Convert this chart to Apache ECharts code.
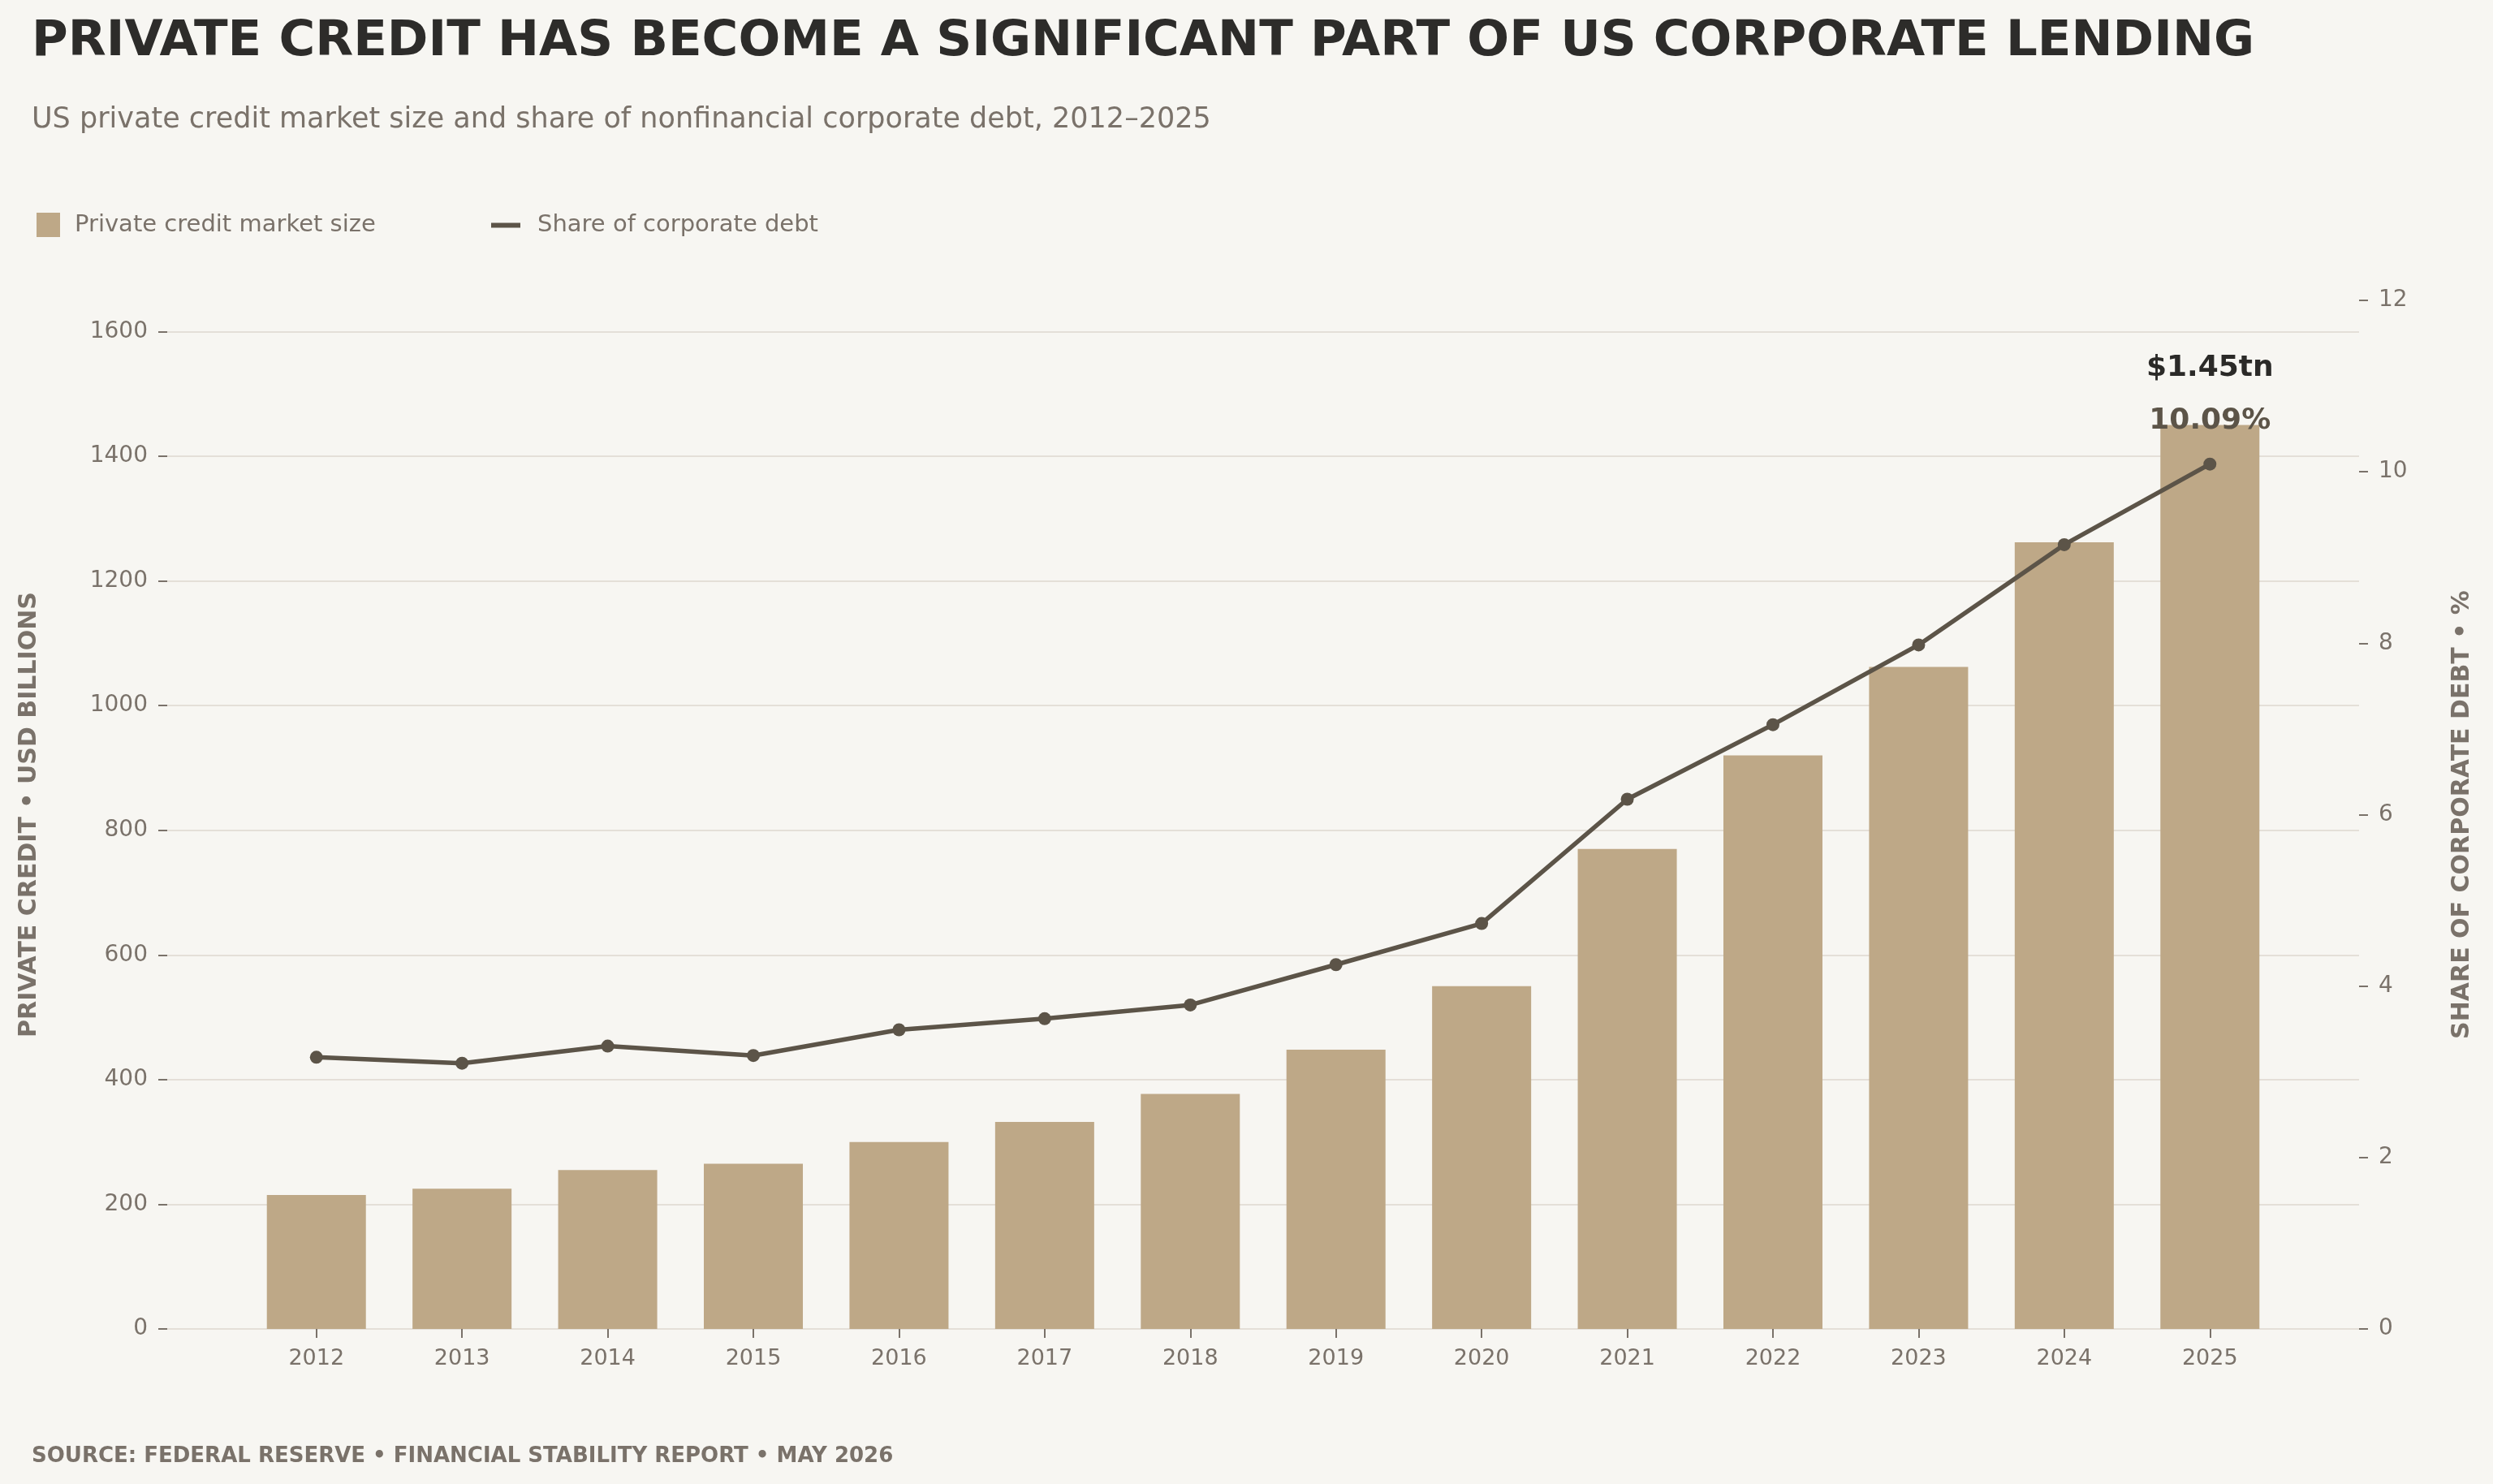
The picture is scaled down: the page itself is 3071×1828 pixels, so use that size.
<!DOCTYPE html>
<html>
<head>
<meta charset="utf-8">
<script src="https://cdn.jsdelivr.net/npm/echarts@6/dist/echarts.min.js"></script>
<style>
  html, body { margin: 0; padding: 0; background: #f7f6f2; }
  #main { width: 3071px; height: 1828px; }
</style>
</head>
<body>
<div id="main"></div>
<script>
var years = [2012, 2013, 2014, 2015, 2016, 2017, 2018, 2019, 2020, 2021, 2022, 2023, 2024, 2025];
var marketSize = [215, 225, 255, 265, 300, 332, 377, 448, 550, 770, 920, 1062, 1262, 1450];
var shareOfDebt = [3.17, 3.10, 3.30, 3.19, 3.49, 3.62, 3.78, 4.25, 4.73, 6.18, 7.05, 7.98, 9.15, 10.09];
var leftTicks = [0, 200, 400, 600, 800, 1000, 1200, 1400, 1600];
var rightTicks = [0, 2, 4, 6, 8, 10, 12];

var grey = '#7a726a';
var font = 'DejaVu Sans';
var last = years.length - 1;

var myChart = echarts.init(document.getElementById('main'));

var option = {
    backgroundColor: '#f7f6f2',
    animation: false,
    textStyle: { fontFamily: font },
    title: [
        {
            text: 'PRIVATE CREDIT HAS BECOME A SIGNIFICANT PART OF US CORPORATE LENDING',
            left: 39, top: 22, padding: 0,
            textStyle: { fontFamily: font, fontSize: 61, fontWeight: 'bold', color: '#2d2c2a' }
        },
        {
            text: 'US private credit market size and share of nonfinancial corporate debt, 2012\u20132025',
            left: 39, top: 130, padding: 0,
            textStyle: { fontFamily: font, fontSize: 35, fontWeight: 'normal', color: grey }
        },
        {
            text: 'SOURCE: FEDERAL RESERVE \u2022 FINANCIAL STABILITY REPORT \u2022 MAY 2026',
            left: 39, top: 1781, padding: 0,
            textStyle: { fontFamily: font, fontSize: 26, fontWeight: 'bold', color: grey }
        }
    ],
    legend: [
        {
            data: ['Private credit market size'],
            left: 45, top: 262, padding: 0,
            icon: 'rect', itemWidth: 29, itemHeight: 30,
            textStyle: { fontFamily: font, fontSize: 29, color: grey, padding: [0, 0, 0, 13] }
        },
        {
            data: ['Share of corporate debt'],
            left: 605, top: 263, padding: 0,
            icon: 'rect', itemWidth: 36, itemHeight: 6,
            textStyle: { fontFamily: font, fontSize: 29, color: grey, padding: [0, 0, 0, 16] }
        }
    ],
    grid: { left: 206, right: 165, top: 370, bottom: 191, containLabel: false },
    xAxis: {
        type: 'value',
        min: 2010.976,
        max: 2026.024,
        axisLine: { show: false },
        splitLine: { show: false },
        axisTick: { show: true, length: 11, customValues: years, lineStyle: { color: grey, width: 2 } },
        axisLabel: { customValues: years, margin: 23, fontSize: 27, color: grey, fontFamily: font,
            formatter: function (v) { return String(v); } }
    },
    yAxis: [
        {
            type: 'value',
            min: 0, max: 1650, interval: 200,
            name: 'PRIVATE CREDIT \u2022 USD BILLIONS',
            nameLocation: 'middle', nameGap: 155, nameRotate: 90,
            nameTextStyle: { fontFamily: font, fontSize: 30, fontWeight: 'bold', color: grey },
            axisLine: { show: false },
            axisTick: { show: true, length: 11, customValues: leftTicks, lineStyle: { color: grey, width: 2 } },
            axisLabel: { customValues: leftTicks, margin: 24, fontSize: 28, color: grey, fontFamily: font,
                formatter: function (v) { return String(v); } },
            splitLine: { show: true, lineStyle: { color: '#e4dfd8', width: 2 } }
        },
        {
            type: 'value',
            min: 0, max: 12, interval: 2,
            position: 'right',
            name: 'SHARE OF CORPORATE DEBT \u2022 %',
            nameLocation: 'middle', nameGap: 112, nameRotate: 90,
            nameTextStyle: { fontFamily: font, fontSize: 30, fontWeight: 'bold', color: grey },
            axisLine: { show: false },
            axisTick: { show: true, length: 11, lineStyle: { color: grey, width: 2 } },
            axisLabel: { customValues: rightTicks, margin: 24, fontSize: 28, color: grey, fontFamily: font },
            splitLine: { show: false }
        }
    ],
    series: [
        {
            name: 'Private credit market size',
            type: 'bar',
            yAxisIndex: 0,
            barWidth: '68%',
            itemStyle: { color: '#bea887' },
            data: years.map(function (y, i) { return [y, marketSize[i]]; }),
            label: {
                show: true, position: 'top', distance: 52,
                fontFamily: font, fontSize: 36, fontWeight: 'bold', color: '#2b2a28',
                formatter: function (p) {
                    return p.dataIndex === last ? '$' + (p.value[1] / 1000).toFixed(2) + 'tn' : '';
                }
            },
            z: 2
        },
        {
            name: 'Share of corporate debt',
            type: 'line',
            yAxisIndex: 1,
            symbol: 'circle',
            symbolSize: 16,
            lineStyle: { color: '#5c5448', width: 5.5 },
            itemStyle: { color: '#5c5448' },
            data: years.map(function (y, i) { return [y, shareOfDebt[i]]; }),
            label: {
                show: true, position: 'top', distance: 27,
                fontFamily: font, fontSize: 36, fontWeight: 'bold', color: '#5c5448',
                formatter: function (p) {
                    return p.dataIndex === last ? p.value[1].toFixed(2) + '%' : '';
                }
            },
            z: 3
        }
    ]
};

myChart.setOption(option);
</script>
</body>
</html>
